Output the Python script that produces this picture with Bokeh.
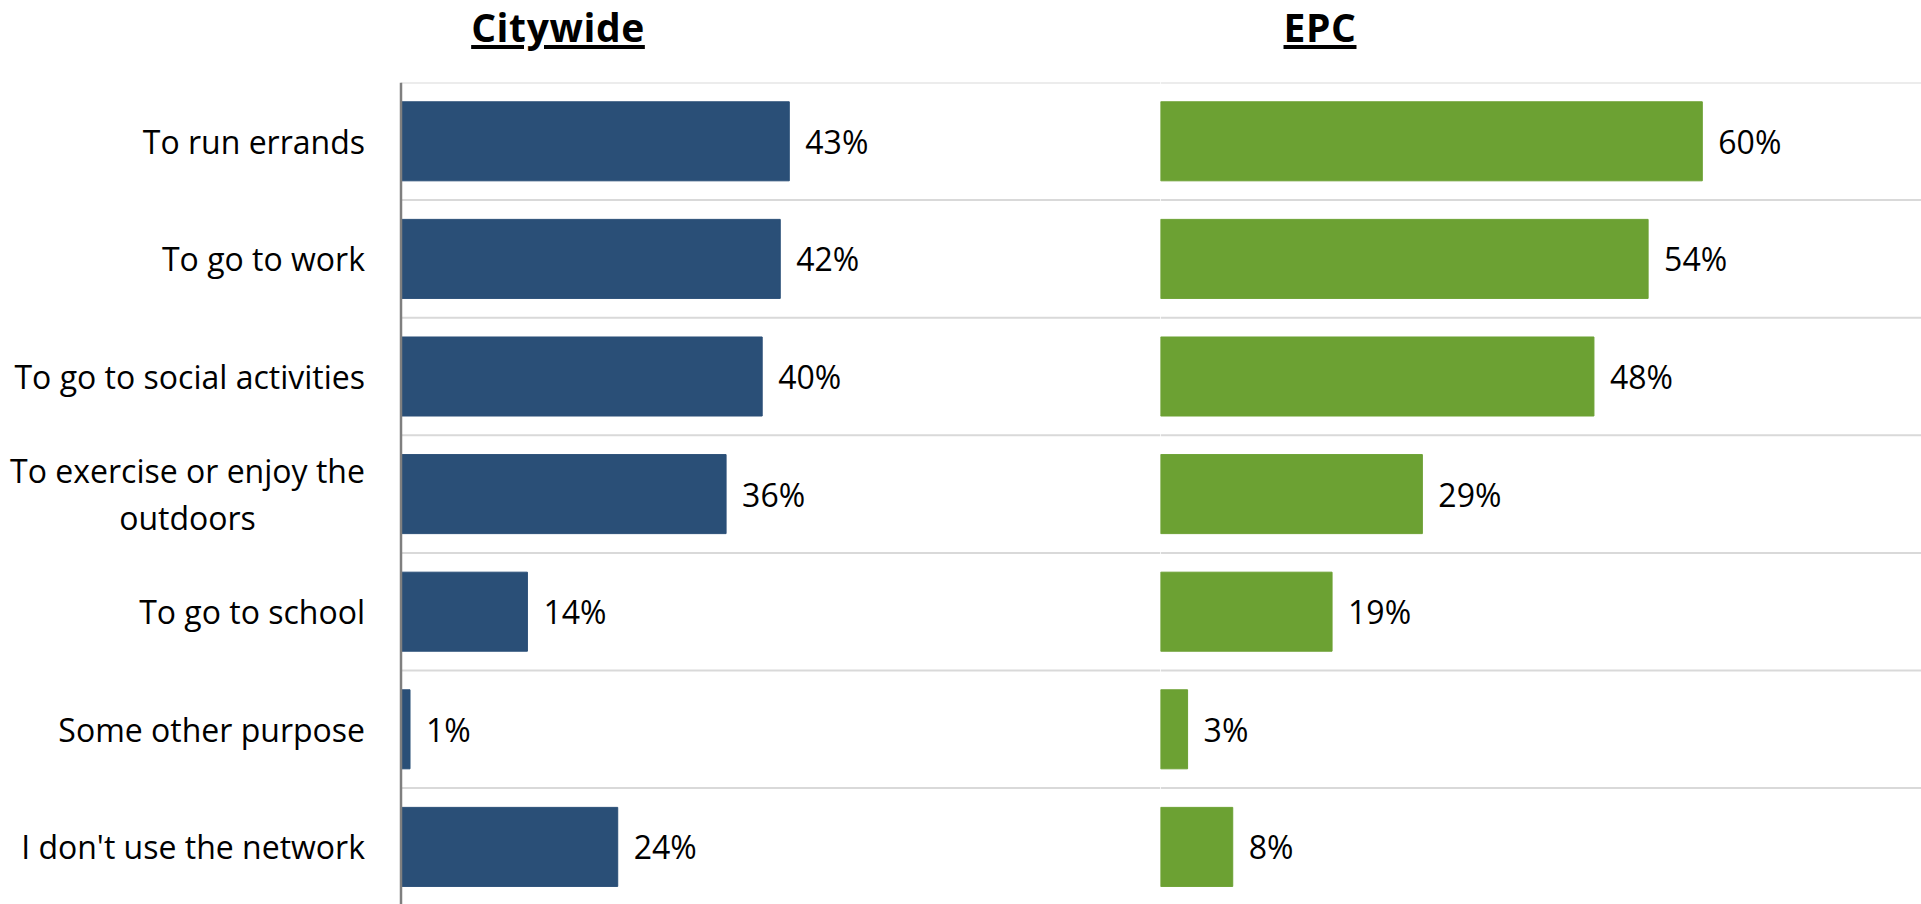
from bokeh.plotting import figure
from bokeh.models import Range1d, Div, ColumnDataSource
from bokeh.layouts import row, column
from bokeh.embed import file_html
from bokeh.resources import INLINE
from bokeh.core.properties import value

# ---- data ----
categories = [
    "To run errands",
    "To go to work",
    "To go to social activities",
    "To exercise or enjoy the\noutdoors",
    "To go to school",
    "Some other purpose",
    "I don't use the network",
]
citywide = [43, 42, 40, 36, 14, 1, 24]
epc = [60, 54, 48, 29, 19, 3, 8]
panel_titles = ["Citywide", "EPC"]

# ---- style / layout ----
FONT = "Open Sans"
PX_PER_PCT = 9.03
BAND = 117.6
TITLE_H = 82
FRAME_H = 822
Y_TOP = -0.5
Y_BOTTOM = Y_TOP + FRAME_H / BAND
AXIS_PX = 400.5          # position of the left value axis inside the left figure
LEFT_W = 1160
RIGHT_W = 761
LABEL_GAP = 36
MULTILINE_W = 355        # approx. width of the longest line of a wrapped label
GRID_COLOR = "#d9d9d9"

n = len(categories)
idx = list(range(n))
edges = [i - 0.5 for i in range(n + 1)]


def base_figure(width, x_start_px, x_end_px):
    p = figure(
        width=width, height=FRAME_H,
        x_range=Range1d(x_start_px / PX_PER_PCT, x_end_px / PX_PER_PCT),
        y_range=Range1d(Y_BOTTOM, Y_TOP),
        output_backend="svg", toolbar_location=None,
        x_axis_location=None, y_axis_location=None,
        min_border_left=0, min_border_right=0,
        min_border_top=0, min_border_bottom=0,
    )
    p.outline_line_color = None
    p.background_fill_color = "white"
    p.border_fill_color = "white"
    p.xgrid.visible = False
    p.ygrid.visible = False
    return p


def add_bars(p, values, color):
    src = ColumnDataSource(dict(y=idx, v=values, lab=[f"{v}%" for v in values]))
    p.hbar(y="y", left=0, right="v", height=0.672, fill_color=color,
           line_color=color, source=src)
    p.text(x="v", y="y", text="lab", x_offset=16, text_baseline="middle",
           text_align="left", text_font=value(FONT), text_font_size="32px",
           text_color="black", source=src)


# left panel (category labels + Citywide)
p1 = base_figure(LEFT_W, -AXIS_PX, LEFT_W - AXIS_PX)
p1.segment(x0=0, x1=(LEFT_W - AXIS_PX) / PX_PER_PCT, y0=edges, y1=edges,
           line_color=GRID_COLOR, line_width=2)
add_bars(p1, citywide, "#2a4f77")
p1.segment(x0=[0], x1=[0], y0=[edges[0]], y1=[edges[-1]],
           line_color="#7f7f7f", line_width=2.5)

single = [(i, c) for i, c in enumerate(categories) if "\n" not in c]
multi = [(i, c) for i, c in enumerate(categories) if "\n" in c]
p1.text(x=0, y=[i for i, _ in single], text=[c for _, c in single],
        x_offset=-LABEL_GAP, text_align="right", text_baseline="middle",
        text_font=value(FONT), text_font_size="32px", text_color="black")
p1.text(x=0, y=[i for i, _ in multi], text=[c for _, c in multi],
        x_offset=-(LABEL_GAP + MULTILINE_W / 2), text_align="center",
        text_baseline="middle", text_line_height=1.1,
        text_font=value(FONT), text_font_size="32px", text_color="black")

# right panel (EPC)
p2 = base_figure(RIGHT_W, 0, RIGHT_W)
p2.segment(x0=0, x1=RIGHT_W / PX_PER_PCT, y0=edges, y1=edges,
           line_color=GRID_COLOR, line_width=2)
add_bars(p2, epc, "#6ca133")

spans = "".join(
    f'<span style="position:absolute;left:{cx}px;top:0px;transform:translateX(-50%);'
    f'white-space:nowrap;letter-spacing:0.6px;text-decoration:underline;'
    f'text-decoration-thickness:4px;text-underline-offset:3px;">{t}</span>'
    for t, cx in zip(panel_titles, [558, 1320])
)
title_div = Div(
    text=(f'<div style="position:relative;width:1921px;height:{TITLE_H}px;'
          f'font-family:\'Open Sans\',sans-serif;font-weight:700;font-size:39px;'
          f'line-height:normal;color:#000;">{spans}</div>'),
    width=1921, height=TITLE_H, margin=0,
)

layout = column(title_div, row(p1, p2, spacing=0), spacing=0)

with open("out.html", "w") as f:
    f.write(file_html(layout, INLINE))
